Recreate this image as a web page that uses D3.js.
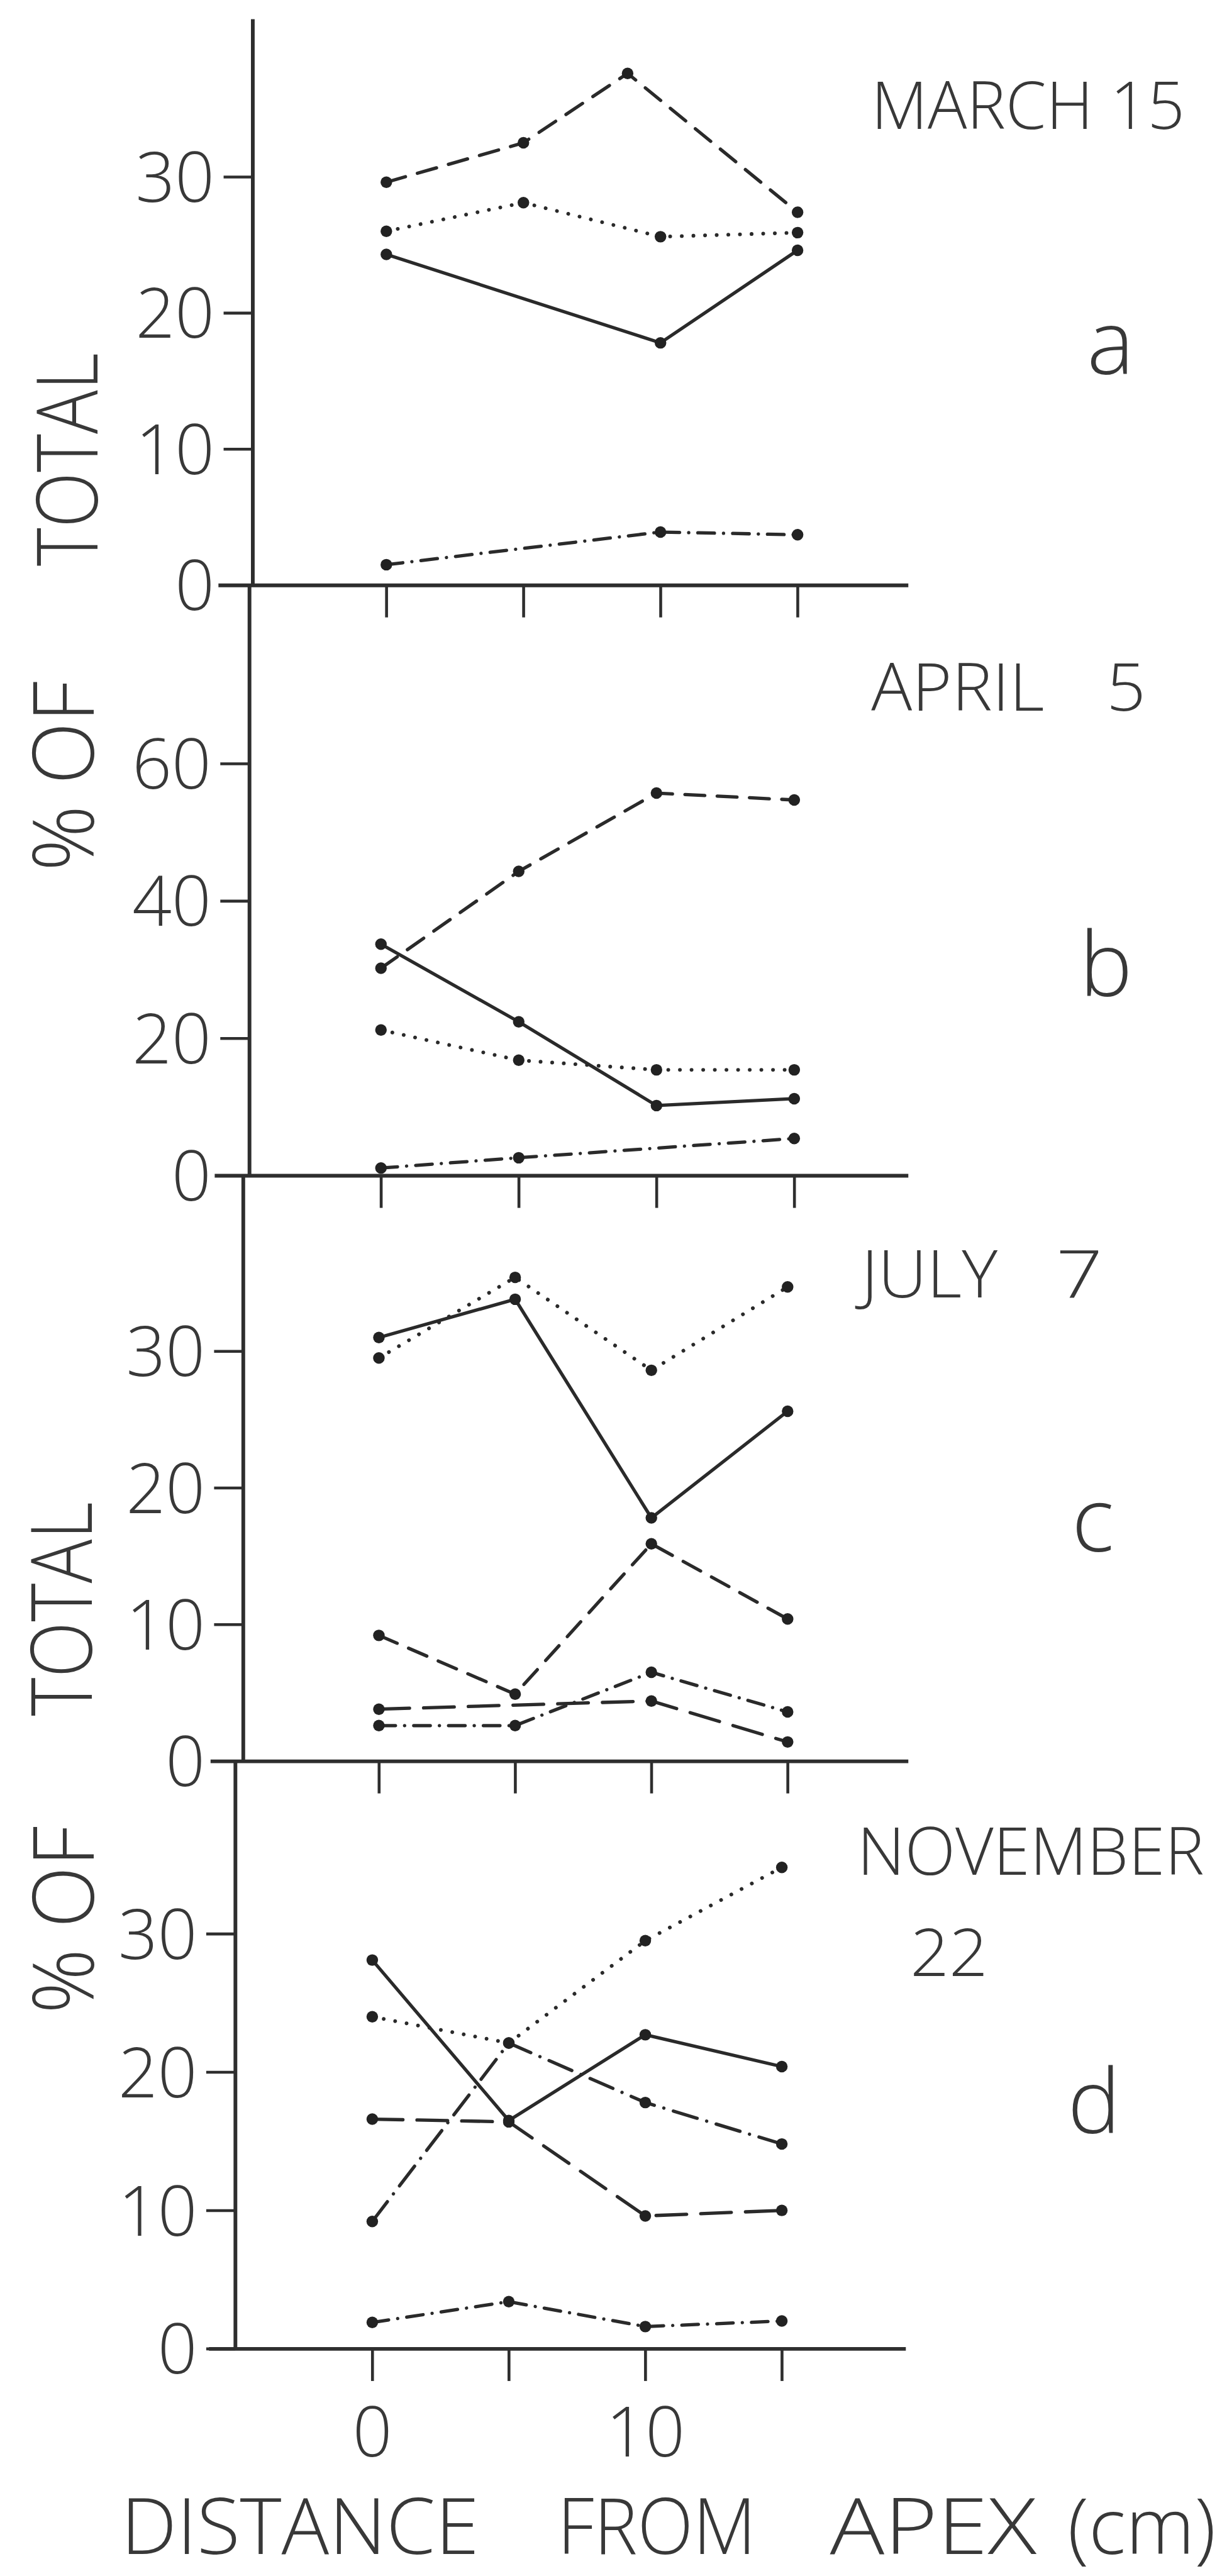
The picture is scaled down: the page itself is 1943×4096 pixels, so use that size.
<!DOCTYPE html>
<meta charset="utf-8">
<style>
body { margin: 0; background: #fff; }
svg { display: block; }
text { font-family: "Open Sans", Lato, "DejaVu Sans", sans-serif; font-weight: 300; fill: #383838; }
.tick text { font-size: 167px; }
.date { font-size: 160px; }
.letter { font-size: 215px; }
.ytitle { font-size: 205px; }
.xtitle { font-size: 188px; }
</style>
<svg width="1943" height="4096"></svg>
<script src="https://d3js.org/d3.v7.min.js"></script>
<script>

// reference was 2951 px wide, everything below is laid out in its pixels
var k = 1943 / 2951;

var distance = [0, 5, 10, 15];   // cm from apex
var xLabelsBottom = ["0", "", "10", ""];

// a - March 15
var marchDashed = [29.6, 32.5, 37.6, 27.4];
var marchDashedAt = [0, 5, 8.8, 15];
var marchDotted = [26.0, 28.1, 25.6, 25.9];
var marchSolid = [24.3, null, 17.8, 24.6];
var marchDashDot = [1.5, null, 3.9, 3.7];

// b - April 5
var aprilDashed = [30.2, 44.3, 55.7, 54.7];
var aprilSolid = [33.7, 22.4, 10.2, 11.2];
var aprilDotted = [21.2, 16.8, 15.4, 15.4];
var aprilDashDot = [1.1, 2.6, null, 5.4];

// c - July 7
var julySolid = [31.0, 33.8, 17.8, 25.6];
var julyDotted = [29.5, 35.4, 28.6, 34.7];
var julyDashed = [9.2, 4.9, 15.9, 10.4];
var julyLongDash = [3.8, null, 4.4, 1.4];
var julyDashDot = [2.6, 2.6, 6.5, 3.6];

// d - November 22
var novSolid = [28.1, 16.5, 22.7, 20.4];
var novDotted = [24.0, 22.1, 29.5, 34.8];
var novLongDashDot = [9.2, 22.1, 17.8, 14.8];
var novLongDash = [16.6, 16.4, 9.6, 10.0];
var novDashDot = [1.9, 3.4, 1.6, 2.0];

var ticks30 = [0, 10, 20, 30];
var ticks60 = [0, 20, 40, 60];

var dash = {
  solid: null,
  dashed: "48,30",
  longDash: "74,34",
  dotted: "0.1,28",
  dashDot: "40,22,0.1,22",
  longDashDot: "60,24,0.1,24"
};

var panels = [
  { top: 46, y0: 1413, yRef: [30, 427], axisX: 610, x0: 933, x15: 1926, xLine: [527, 2193], yTicks: ticks30,
    date: [{ t: "MARCH 15", x: 2104, w: 757 }], dateY: 311, letter: "a", lx: 2625, ly: 903,
    series: [
      { v: marchDashed, at: marchDashedAt, s: "dashed" },
      { v: marchDotted, s: "dotted" },
      { v: marchSolid, s: "solid" },
      { v: marchDashDot, s: "dashDot" }
    ] },
  { top: 1413, y0: 2839, yRef: [60, 1844], axisX: 602, x0: 920, x15: 1918, xLine: [518, 2193], yTicks: ticks60,
    date: [{ t: "APRIL ", x: 2104, w: 418 }, { t: "5", x: 2672, w: 95 }], dateY: 1716, letter: "b", lx: 2607, ly: 2405,
    series: [
      { v: aprilDashed, s: "dashed" },
      { v: aprilSolid, s: "solid" },
      { v: aprilDotted, s: "dotted" },
      { v: aprilDashDot, s: "dashDot" }
    ] },
  { top: 2839, y0: 4253, yRef: [30, 3263], axisX: 587, x0: 915, x15: 1902, xLine: [508, 2193], yTicks: ticks30,
    date: [{ t: "JULY ", x: 2080, w: 329 }, { t: "7", x: 2550, w: 113 }], dateY: 3134, letter: "c", lx: 2588, ly: 3747,
    series: [
      { v: julySolid, s: "solid" },
      { v: julyDotted, s: "dotted" },
      { v: julyDashed, s: "dashed" },
      { v: julyLongDash, s: "longDash" },
      { v: julyDashDot, s: "dashDot" }
    ] },
  { top: 4253, y0: 5672, yRef: [30, 4670], axisX: 568, x0: 899, x15: 1888, xLine: [504, 2187], yTicks: ticks30,
    date: [{ t: "NOVEMBER ", x: 2070, w: 838 }, { t: "22", x: 2198, w: 188, dy: 245 }], dateY: 4527, letter: "d", lx: 2578, ly: 5151,
    xLabels: xLabelsBottom,
    series: [
      { v: novSolid, s: "solid" },
      { v: novDotted, s: "dotted" },
      { v: novLongDashDot, s: "longDashDot" },
      { v: novLongDash, s: "longDash" },
      { v: novDashDot, s: "dashDot" }
    ] }
];

var svg = d3.select("svg"),
    root = svg.append("g").attr("transform", "scale(" + k + ")");

panels.forEach(function(p) {
  var g = root.append("g");

  var y = d3.scaleLinear().domain([0, p.yRef[0]]).range([p.y0, p.yRef[1]]);
  y.domain([0, y.invert(p.top)]).range([p.y0, p.top]);

  var x = d3.scaleLinear().domain([0, 15]).range([p.x0, p.x15]);
  x.domain(p.xLine.map(function(d) { return x.invert(d); })).range(p.xLine);

  var ya = g.append("g")
      .attr("transform", "translate(" + p.axisX + ",0)")
      .style("color", "#2e2e2e")
      .call(d3.axisLeft(y).tickValues(p.yTicks).tickSize(70).tickSizeOuter(0).tickPadding(22));
  ya.attr("font-size", null).attr("font-family", null);
  ya.select(".domain").attr("stroke-width", 9);
  ya.selectAll(".tick line").attr("stroke-width", 7);
  ya.selectAll(".tick text").attr("dy", "0.36em");

  var xa = g.append("g")
      .attr("transform", "translate(0," + p.y0 + ")")
      .style("color", "#2e2e2e")
      .call(d3.axisBottom(x).tickValues(distance).tickSize(78).tickSizeOuter(0)
        .tickFormat(function(d, i) { return p.xLabels ? p.xLabels[i] : ""; }));
  xa.attr("font-size", null).attr("font-family", null);
  xa.select(".domain").attr("stroke-width", 9);
  xa.selectAll(".tick line").attr("stroke-width", 7);
  xa.selectAll(".tick text").attr("y", 260).attr("dy", null);

  var line = d3.line()
      .x(function(d) { return x(d.x); })
      .y(function(d) { return y(d.v); });

  p.series.forEach(function(s) {
    var at = s.at || distance;
    var pts = s.v.map(function(v, i) { return { x: at[i], v: v }; })
        .filter(function(d) { return d.v != null; });

    g.append("path")
        .datum(pts)
        .attr("d", line)
        .attr("fill", "none")
        .attr("stroke", "#2a2a2a")
        .attr("stroke-width", s.s == "dotted" ? 9 : 8)
        .attr("stroke-linecap", "round")
        .attr("stroke-dasharray", dash[s.s]);

    g.selectAll(null)
        .data(pts)
      .enter().append("circle")
        .attr("cx", function(d) { return x(d.x); })
        .attr("cy", function(d) { return y(d.v); })
        .attr("r", 14)
        .attr("fill", "#222");
  });

  var dt = g.append("text").attr("class", "date").attr("y", p.dateY);
  p.date.forEach(function(d) {
    var ts = dt.append("tspan")
        .attr("x", d.x)
        .attr("textLength", d.w)
        .attr("lengthAdjust", "spacingAndGlyphs")
        .text(d.t.trim());
    if (d.dy) ts.attr("dy", d.dy);
    if (d.t != d.t.trim()) dt.append("tspan").text(" ");
  });

  g.append("text")
      .attr("class", "letter")
      .attr("x", p.lx)
      .attr("y", p.ly)
      .text(p.letter);
});

// y titles, two of them, each split over two panels
var yTitles = [
  { t: "TOTAL", x: 235, y: 1367, len: 515 },
  { t: "% OF", x: 226, y: 2104, len: 459 },
  { t: "TOTAL", x: 222, y: 4144, len: 517 },
  { t: "% OF", x: 226, y: 4863, len: 453 }
];

root.selectAll(".ytitle")
    .data(yTitles)
  .enter().append("text")
    .attr("class", "ytitle")
    .attr("transform", function(d) { return "translate(" + d.x + "," + d.y + ") rotate(-90)"; })
    .attr("textLength", function(d) { return d.len; })
    .attr("lengthAdjust", "spacingAndGlyphs")
    .text(function(d) { return d.t; });

var xTitle = [
  { t: "DISTANCE", x: 292, w: 865 },
  { t: "FROM", x: 1346, w: 480 },
  { t: "APEX", x: 2004, w: 499 },
  { t: "(cm)", x: 2578, w: 358 }
];

var xt = root.append("text")
    .attr("class", "xtitle")
    .attr("y", 6168);
xTitle.forEach(function(d, i) {
  if (i) xt.append("tspan").text(" ");
  xt.append("tspan")
      .attr("x", d.x)
      .attr("textLength", d.w)
      .attr("lengthAdjust", "spacingAndGlyphs")
      .text(d.t);
});

</script>
